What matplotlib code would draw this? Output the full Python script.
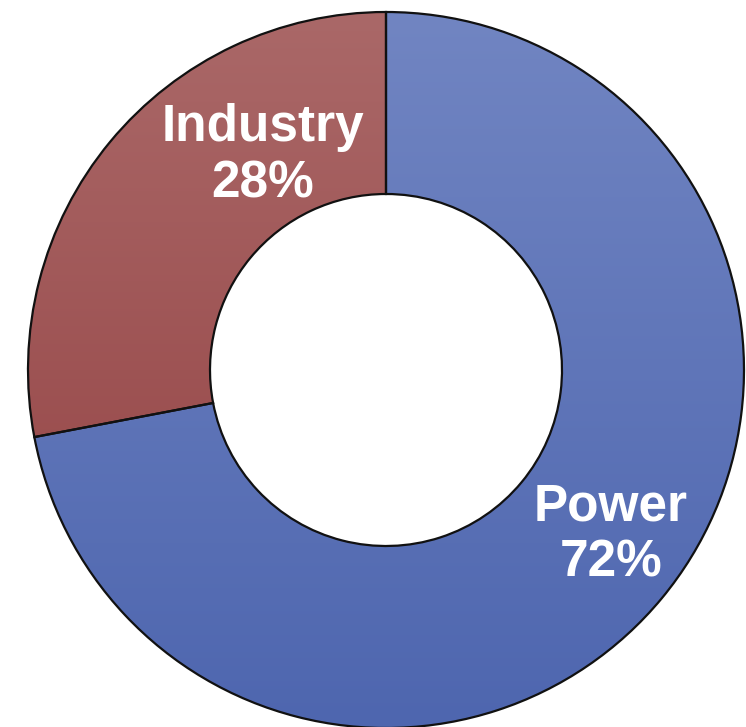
import numpy as np
import matplotlib.pyplot as plt
from matplotlib.colors import LinearSegmentedColormap

labels = ['Power', 'Industry']
shares = [72, 28]
# top / bottom colours of the vertical gradient in each slice
grad_colors = [('#7185c2', '#4e66af'), ('#aa6868', '#923f40')]

W, H = 746, 727
cx, cy = 386, H - 370
r_out, r_in = 358, 176

fig = plt.figure(figsize=(W / 100, H / 100), dpi=100)
ax = fig.add_axes([0, 0, 1, 1])

wedges, _ = ax.pie(shares, startangle=90, counterclock=False,
                   center=(cx, cy), radius=r_out,
                   colors=[c[1] for c in grad_colors],
                   wedgeprops=dict(width=r_out - r_in, edgecolor='#111111',
                                   linewidth=1.6))

# gradient fill clipped to each wedge
grad = np.linspace(1, 0, 256).reshape(-1, 1)
for w, (top, bot) in zip(wedges, grad_colors):
    cmap = LinearSegmentedColormap.from_list('g', [bot, top])
    im = ax.imshow(grad, cmap=cmap, aspect='auto',
                   extent=(cx - r_out, cx + r_out, cy - r_out, cy + r_out),
                   zorder=w.get_zorder())
    im.set_clip_path(w)
    w.set_facecolor('none')
    w.set_zorder(w.get_zorder() + 1)

ax.set_xlim(0, W)
ax.set_ylim(0, H)
ax.set_aspect('equal')
ax.axis('off')

fs = 37
ax.text(263, H - 156, 'Industry\n28%', ha='center', va='center',
        fontsize=fs, fontweight='bold', color='white',
        family='Liberation Sans', zorder=10)
ax.text(611, H - 535, 'Power\n72%', ha='center', va='center',
        fontsize=fs, fontweight='bold', color='white',
        family='Liberation Sans', zorder=10)

fig.savefig('out.png', dpi=100)
